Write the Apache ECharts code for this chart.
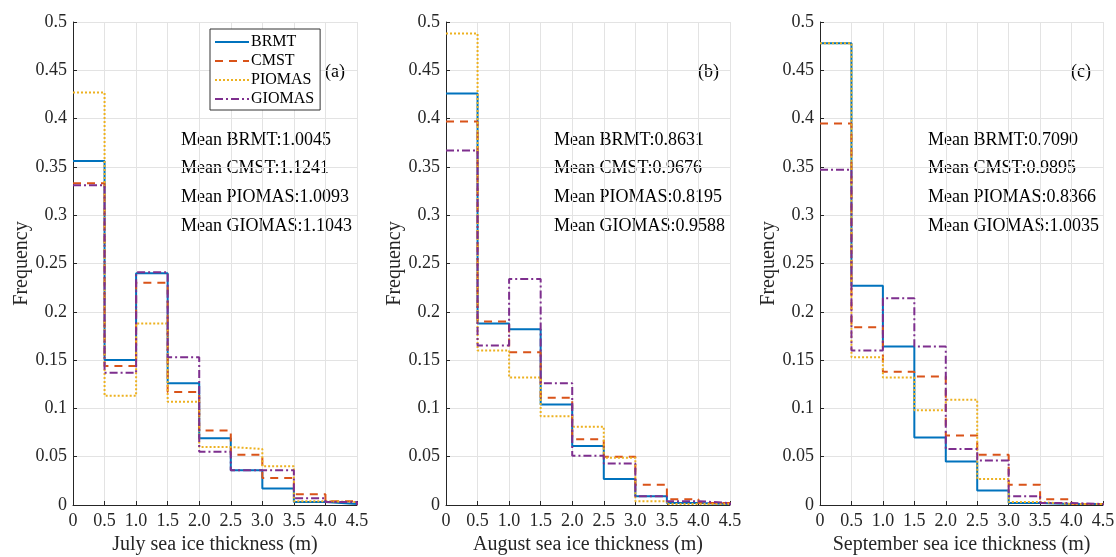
<!DOCTYPE html>
<html>
<head>
<meta charset="utf-8">
<script src="https://cdn.jsdelivr.net/npm/echarts@6/dist/echarts.min.js"></script>
<style>
  html, body { margin: 0; padding: 0; background: #fff; }
  #chart { width: 1116px; height: 557px; }
</style>
</head>
<body>
<div id="chart"></div>
<script>
// Bin edges of the thickness histograms (m)
const binEdges = [0, 0.5, 1.0, 1.5, 2.0, 2.5, 3.0, 3.5, 4.0, 4.5];
const xTickLabels = ['0', '0.5', '1.0', '1.5', '2.0', '2.5', '3.0', '3.5', '4.0', '4.5'];
const yTickLabels = ['0', '0.05', '0.1', '0.15', '0.2', '0.25', '0.3', '0.35', '0.4', '0.45', '0.5'];

const productNames = ['BRMT', 'CMST', 'PIOMAS', 'GIOMAS'];
const monthNames = ['July', 'August', 'September'];
const panelTags = ['(a)', '(b)', '(c)'];

// Frequency per bin, July
const julyBRMT   = [0.356, 0.150, 0.240, 0.126, 0.069, 0.036, 0.017, 0.003, 0.001];
const julyCMST   = [0.333, 0.144, 0.230, 0.117, 0.077, 0.052, 0.028, 0.011, 0.004];
const julyPIOMAS = [0.427, 0.113, 0.188, 0.107, 0.060, 0.058, 0.040, 0.004, 0.003];
const julyGIOMAS = [0.331, 0.137, 0.241, 0.153, 0.055, 0.036, 0.036, 0.007, 0.003];

// Frequency per bin, August
const augBRMT   = [0.426, 0.188, 0.182, 0.104, 0.061, 0.027, 0.009, 0.002, 0.001];
const augCMST   = [0.397, 0.190, 0.158, 0.111, 0.068, 0.050, 0.021, 0.006, 0.002];
const augPIOMAS = [0.488, 0.160, 0.132, 0.092, 0.081, 0.049, 0.004, 0.001, 0.001];
const augGIOMAS = [0.367, 0.165, 0.234, 0.126, 0.051, 0.043, 0.009, 0.004, 0.002];

// Frequency per bin, September
const sepBRMT   = [0.478, 0.227, 0.164, 0.070, 0.045, 0.015, 0.002, 0.001, 0.001];
const sepCMST   = [0.395, 0.184, 0.138, 0.133, 0.072, 0.052, 0.021, 0.006, 0.001];
const sepPIOMAS = [0.478, 0.153, 0.132, 0.098, 0.109, 0.027, 0.003, 0.001, 0.001];
const sepGIOMAS = [0.347, 0.160, 0.214, 0.164, 0.058, 0.046, 0.009, 0.002, 0.001];

// Mean thickness per product (m)
const julyMeans = ['1.0045', '1.1241', '1.0093', '1.1043'];
const augMeans  = ['0.8631', '0.9676', '0.8195', '0.9588'];
const sepMeans  = ['0.7090', '0.9895', '0.8366', '1.0035'];

const monthSeries = [
  [julyBRMT, julyCMST, julyPIOMAS, julyGIOMAS],
  [augBRMT, augCMST, augPIOMAS, augGIOMAS],
  [sepBRMT, sepCMST, sepPIOMAS, sepGIOMAS]
];
const monthMeans = [julyMeans, augMeans, sepMeans];

const lineStyles = [
  { color: '#0072BD', type: 'solid' },
  { color: '#D95319', type: [8, 6] },
  { color: '#EDB120', type: [2, 2] },
  { color: '#7E2F8E', type: [8, 3, 2, 3] }
];

const SERIF = '"Liberation Serif", "Times New Roman", serif';
const AXIS_COLOR = '#262626';

// Plot rectangles of the three panels
const panels = [
  { left: 73, top: 22, width: 284, height: 483 },
  { left: 446, top: 22, width: 284, height: 483 },
  { left: 820, top: 22, width: 283, height: 483 }
];

// Outline of a histogram drawn as stairs, dropping to zero at the right end
function stairs(values) {
  const pts = [];
  values.forEach((v, i) => pts.push([binEdges[i], v]));
  const last = binEdges[binEdges.length - 1];
  pts.push([last, values[values.length - 1]]);
  pts.push([last, 0]);
  return pts;
}

const grids = [], xAxes = [], yAxes = [], series = [], graphics = [];

panels.forEach((p, k) => {
  grids.push({
    left: p.left, top: p.top, width: p.width, height: p.height,
    containLabel: false, outerBoundsMode: 'none'
  });
  xAxes.push({
    type: 'value', gridIndex: k, min: 0, max: 4.5, interval: 0.5,
    name: monthNames[k] + ' sea ice thickness (m)',
    nameLocation: 'middle', nameGap: 30,
    nameTextStyle: { fontFamily: SERIF, fontSize: 20, color: AXIS_COLOR },
    axisLine: { show: true, onZero: false, lineStyle: { color: AXIS_COLOR, width: 1 } },
    axisTick: { show: true, inside: true, length: 4, lineStyle: { color: AXIS_COLOR } },
    axisLabel: {
      fontFamily: SERIF, fontSize: 18, color: AXIS_COLOR, margin: 7,
      formatter: (v) => xTickLabels[Math.round(v / 0.5)]
    },
    splitLine: { show: true, lineStyle: { color: '#e3e3e3', width: 1 } }
  });
  yAxes.push({
    type: 'value', gridIndex: k, min: 0, max: 0.5, interval: 0.05,
    name: 'Frequency', nameLocation: 'middle', nameGap: 41, nameRotate: 90,
    nameTextStyle: { fontFamily: SERIF, fontSize: 20, color: AXIS_COLOR },
    axisLine: { show: true, lineStyle: { color: AXIS_COLOR, width: 1 } },
    axisTick: { show: true, inside: true, length: 4, lineStyle: { color: AXIS_COLOR } },
    axisLabel: {
      fontFamily: SERIF, fontSize: 18, color: AXIS_COLOR, margin: 6,
      formatter: (v) => yTickLabels[Math.round(v / 0.05)]
    },
    splitLine: { show: true, lineStyle: { color: '#e3e3e3', width: 1 } }
  });

  monthSeries[k].forEach((vals, s) => {
    series.push({
      name: productNames[s], type: 'line', step: 'end',
      xAxisIndex: k, yAxisIndex: k,
      data: stairs(vals),
      symbol: 'none', showSymbol: false, silent: true, animation: false,
      lineStyle: { color: lineStyles[s].color, type: lineStyles[s].type, width: 2 },
      itemStyle: { color: lineStyles[s].color }
    });
  });

  // Mean thickness annotations
  const textX = p.left + 108;
  monthMeans[k].forEach((m, s) => {
    graphics.push({
      type: 'text', left: textX, top: 131 + s * 28.7,
      style: { text: 'Mean ' + productNames[s] + ':' + m, font: '18px ' + SERIF, fill: '#000', stroke: 'none', lineWidth: 0 }
    });
  });
  // Panel tag
  graphics.push({
    type: 'text', left: p.left + p.width - 32, top: 63,
    style: { text: panelTags[k], font: '18px ' + SERIF, fill: '#000', stroke: 'none', lineWidth: 0 }
  });
});

const chart = echarts.init(document.getElementById('chart'), null, { renderer: 'canvas' });
chart.setOption({
  backgroundColor: '#ffffff',
  animation: false,
  grid: grids,
  xAxis: xAxes,
  yAxis: yAxes,
  legend: {
    data: productNames,
    orient: 'vertical', left: 210, top: 29,
    backgroundColor: '#ffffff',
    borderColor: '#333333', borderWidth: 1,
    padding: [5, 6, 3, 4],
    itemWidth: 34, itemHeight: 14, itemGap: 3,
    itemStyle: { opacity: 0 },
    textStyle: { fontFamily: SERIF, fontSize: 16, lineHeight: 14, color: '#000', padding: [0, 0, 0, -3] },
    selectedMode: false
  },
  series: series,
  graphic: graphics
});
</script>
</body>
</html>
